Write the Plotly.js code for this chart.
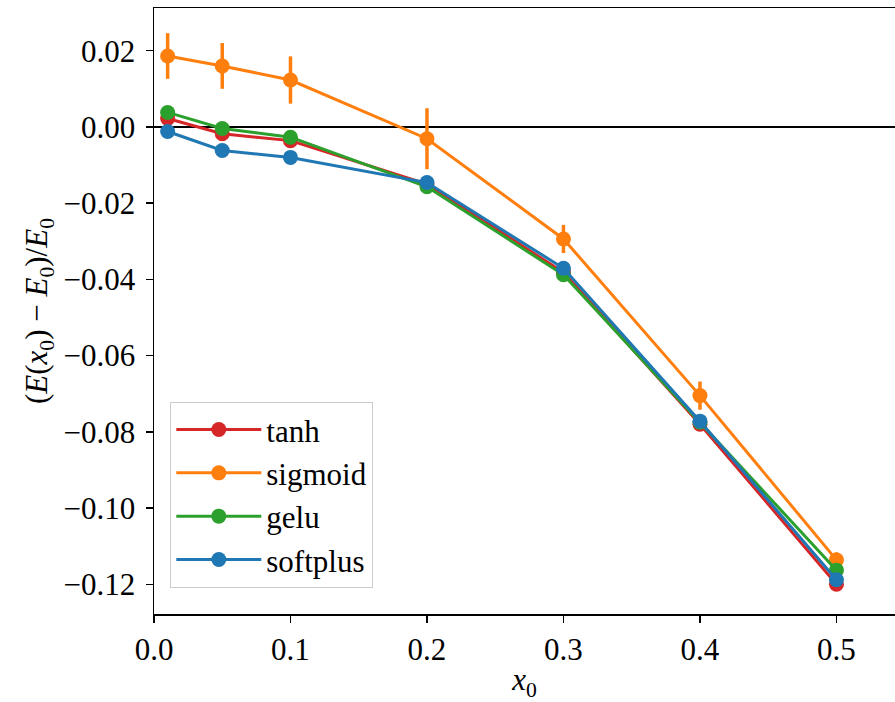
<!DOCTYPE html>
<html>
<head>
<meta charset="utf-8">
<script src="https://cdn.plot.ly/plotly-3.0.1.min.js"></script>
<style>html,body{margin:0;padding:0;background:#fff;}#chart{width:895px;height:702px;}</style>
</head>
<body>
<div id="chart"></div>
<script>
const x0 = [0.01, 0.05, 0.1, 0.2, 0.3, 0.4, 0.5];
const seriesNames = ["tanh", "sigmoid", "gelu", "softplus"];
const tanhY = [0.0022, -0.0018, -0.0036, -0.0150, -0.0382, -0.0780, -0.1200];
const sigmoidY = [0.0186, 0.0160, 0.0123, -0.0031, -0.0294, -0.0705, -0.1136];
const geluY = [0.0038, -0.0004, -0.0027, -0.0157, -0.0388, -0.0775, -0.1163];
const softplusY = [-0.0012, -0.0062, -0.0080, -0.0146, -0.0371, -0.0772, -0.1188];
const tanhErr = [0.0008, 0.0008, 0.0008, 0.0009, 0.0009, 0.0010, 0.0010];
const sigmoidErr = [0.0060, 0.0060, 0.0062, 0.0080, 0.0037, 0.0037, 0.0020];
const geluErr = [0.0008, 0.0008, 0.0008, 0.0009, 0.0009, 0.0010, 0.0010];
const softplusErr = [0.0008, 0.0008, 0.0008, 0.0009, 0.0009, 0.0010, 0.0010];
const colors = ["#d62728", "#ff7f0e", "#2ca02c", "#1f77b4"];

const ys = [tanhY, sigmoidY, geluY, softplusY];
const errs = [tanhErr, sigmoidErr, geluErr, softplusErr];

const traces = seriesNames.map((n, i) => ({
  type: "scatter",
  mode: "lines+markers",
  name: n,
  legendgroup: n,
  x: x0,
  y: ys[i],
  line: {color: colors[i], width: 3},
  marker: {color: colors[i], size: 15},
  error_y: {type: "data", array: errs[i], visible: true, color: colors[i], thickness: 3.5, width: 0}
}));

const fam = "Liberation Serif";
const font = {family: fam, size: 31, color: "#000"};

const layout = {
  width: 895, height: 702,
  margin: {l: 154, r: 0, t: 8, b: 88},
  paper_bgcolor: "#fff", plot_bgcolor: "#fff",
  font: font,
  showlegend: true,
  legend: {
    x: 0.022, y: 0.35, xanchor: "left", yanchor: "top",
    bgcolor: "rgba(255,255,255,0.8)", bordercolor: "#cccccc", borderwidth: 1,
    font: {family: fam, size: 31, color: "#000"}, itemwidth: 85, tracegroupgap: 0
  },
  xaxis: {
    range: [0, 0.5429],
    tickvals: [0, 0.1, 0.2, 0.3, 0.4, 0.5],
    ticktext: ["0.0", "0.1", "0.2", "0.3", "0.4", "0.5"],
    ticks: "outside", ticklen: 7, tickwidth: 1.5, tickcolor: "#000",
    showline: true, linecolor: "#000", linewidth: 1.5, mirror: true,
    showgrid: false, zeroline: false,
    tickfont: font,
    title: {text: "<i>x</i><sub>0</sub>", font: font, standoff: 4}
  },
  yaxis: {
    range: [-0.1278, 0.0312],
    dtick: 0.02, tick0: 0, tickformat: ".2f",
    ticks: "outside", ticklen: 7, tickwidth: 1.5, tickcolor: "#000",
    ticklabelstandoff: 4,
    showline: true, linecolor: "#000", linewidth: 1.5, mirror: false,
    showgrid: false,
    zeroline: true, zerolinecolor: "#000", zerolinewidth: 2.5,
    tickfont: font,
    title: {text: "(<i>E</i>(<i>x</i><sub>0</sub>) − <i>E</i><sub>0</sub>)/<i>E</i><sub>0</sub>", font: font, standoff: 6}
  }
};

Plotly.newPlot("chart", traces, layout, {displayModeBar: false, staticPlot: true});
</script>
</body>
</html>
